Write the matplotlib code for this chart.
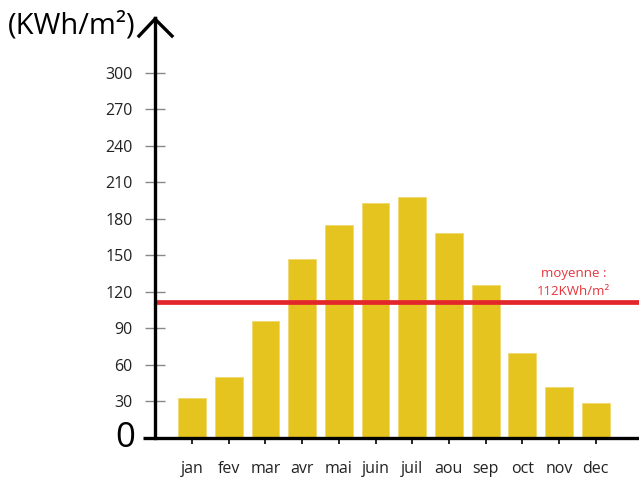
import matplotlib
matplotlib.use('Agg')
import matplotlib.pyplot as plt

plt.rcParams['font.family'] = ['Open Sans', 'DejaVu Sans']

# irradiation mensuelle (KWh/m2)
mois = ['jan', 'fev', 'mar', 'avr', 'mai', 'juin', 'juil', 'aou', 'sep', 'oct', 'nov', 'dec']
valeurs = [33, 50, 96, 147, 175, 193, 198, 168, 126, 70, 42, 29]
moyenne = 112
graduations = [30, 60, 90, 120, 150, 180, 210, 240, 270, 300]

W, H = 639, 480
fig = plt.figure(figsize=[W / 100, H / 100], dpi=100)
ax = fig.add_axes([155 / W, 42 / H, 484 / W, 420 / H])

x = list(range(len(mois)))
ax.bar(x, valeurs, width=0.76, color='#e6c41f', edgecolor='#f0d870', linewidth=0.6, zorder=2)
ax.axhline(moyenne, color='#e3262b', linewidth=3.4, zorder=3)

ax.set_xlim(-1.01, 12.18)
ax.set_ylim(0, 345)

for s in ['top', 'right', 'bottom']:
    ax.spines[s].set_visible(False)
ax.spines['left'].set_linewidth(2.4)
ax.spines['left'].set_color('black')
ax.spines['left'].set_zorder(4)

# axe des x prolonge a gauche
ax.plot([-12 / 484, 1], [0, 0], transform=ax.transAxes, color='black',
        linewidth=2.4, clip_on=False, zorder=4, solid_capstyle='butt')
# fleche en haut de l'axe y
ax.plot([-16 / 484, 0, 17 / 484], [(438 - 36) / 420, (438 - 19) / 420, (438 - 36) / 420],
        transform=ax.transAxes, color='black', linewidth=2.4, clip_on=False, zorder=4)
ax.plot([0, 0], [1, (438 - 20) / 420], transform=ax.transAxes, color='black',
        linewidth=2.4, clip_on=False, zorder=4)

ax.set_yticks(graduations)
ax.set_yticklabels([str(g) for g in graduations])
ax.tick_params(axis='y', direction='inout', length=14, width=1, color='#888888',
               labelsize=11.5, pad=9, labelcolor='#222222')
ax.set_xticks(x)
ax.set_xticklabels(mois)
ax.tick_params(axis='x', direction='inout', length=9, width=1.2, color='black',
               labelsize=11.5, pad=12, labelcolor='#222222')

ax.text(-30 / 484, 0, '0', transform=ax.transAxes, fontsize=25, ha='center',
        va='center', color='black')
fig.text(8 / W, 1 - 26 / H, '(KWh/m²)', fontsize=21, ha='left', va='center')

ax.text(10.4, moyenne + 23, 'moyenne :', color='#e8343a', fontsize=9.5, ha='center', va='center')
ax.text(10.4, moyenne + 8, '112KWh/m²', color='#e8343a', fontsize=9.5, ha='center', va='center')

fig.savefig('out.png', dpi=100)
